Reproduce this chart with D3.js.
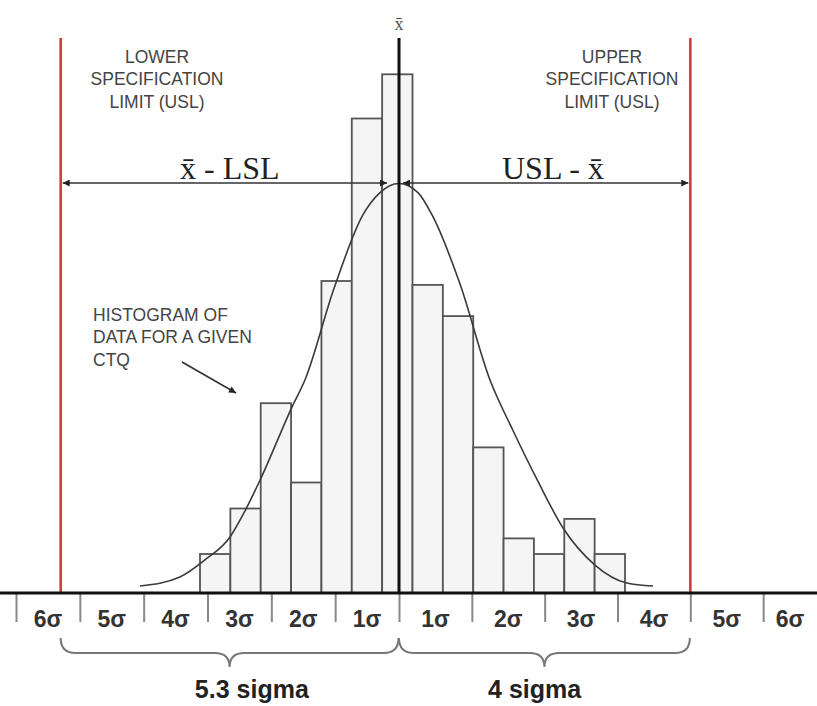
<!DOCTYPE html>
<html>
<head>
<meta charset="utf-8">
<script src="https://cdn.jsdelivr.net/npm/d3@7"></script>
<style>
  html, body { margin: 0; padding: 0; background: #fff; }
  svg { display: block; }
</style>
</head>
<body>
<svg id="chart" width="817" height="706"></svg>
<script>
// ---------------- DATA ----------------
// histogram bins (bin index units) and frequencies
const binEdges = [0, 1, 2, 3, 4, 5, 6, 7, 8, 9, 10, 11, 12, 13, 14];
const counts   = [3, 6.5, 14.6, 8.5, 24, 36.5, 39.9, 23.7, 21.3, 11.2, 4.2, 3, 5.7, 3];

// fitted curve, points (bin units, frequency units)
const curveX = [-1.98, -0.66, 0.16, 0.99, 1.48, 1.98, 3.03, 3.46, 4.41, 5.37, 5.93, 6.55, 7.18, 7.64, 8.56, 9.55, 10.31, 11.13, 11.96, 13.01, 14.06, 14.92];
const curveY = [0.54, 1.23, 2.54, 4.31, 6.3, 8.69, 14.3, 16.4, 23.4, 29.1, 30.8, 31.5, 30.8, 29.1, 23.8, 16.4, 12.5, 8.6, 5.0, 2.15, 0.77, 0.54];

// sigma axis
const sigmaTicks  = [-6, -5, -4, -3, -2, -1, 0, 1, 2, 3, 4, 5, 6];
const sigmaLabels = ["6σ", "5σ", "4σ", "3σ", "2σ", "1σ", "1σ", "2σ", "3σ", "4σ", "5σ", "6σ"];
const sigmaLabelSegments = [[-6, -5], [-5, -4], [-4, -3], [-3, -2], [-2, -1], [-1, 0], [0, 1], [1, 2], [2, 3], [3, 4], [4, 5], [5, 6]];

// spec limits and mean (sigma units)
const limitNames  = ["LSL", "USL"];
const limitValues = [-5.3, 4];
const meanSigma   = 0;

// annotation texts
const lslLabel  = ["LOWER", "SPECIFICATION", "LIMIT (USL)"];
const uslLabel  = ["UPPER", "SPECIFICATION", "LIMIT (USL)"];
const histLabel = ["HISTOGRAM OF", "DATA FOR A GIVEN", "CTQ"];
const braceLabels = ["5.3 sigma", "4 sigma"];

// ---------------- DRAW ----------------
const W = 817, H = 706;
const baseY = 593;
const svg = d3.select("#chart");

const sigmaScale = d3.scaleLinear().domain([-6, 0, 6]).range([16, 399, 836]);
const xBin = d3.scaleLinear().domain([0, 14]).range([200, 625]);
const yFreq = d3.scaleLinear().domain([0, 40]).range([baseY, 73]);

const sans = "'Liberation Sans', Arial, Helvetica, sans-serif";
const serif = "'Liberation Serif', 'Times New Roman', serif";

svg.append("rect").attr("width", W).attr("height", H).attr("fill", "#fff");

// spec limit red lines
svg.selectAll("line.limit").data(limitValues).enter().append("line")
  .attr("class", "limit")
  .attr("x1", d => sigmaScale(d)).attr("x2", d => sigmaScale(d))
  .attr("y1", 38).attr("y2", baseY)
  .attr("stroke", "#d63a3c").attr("stroke-width", 2.6);

// histogram bars
const bars = counts.map((c, i) => ({x0: binEdges[i], x1: binEdges[i + 1], c}));
svg.selectAll("rect.bar").data(bars).enter().append("rect")
  .attr("class", "bar")
  .attr("x", d => xBin(d.x0))
  .attr("y", d => yFreq(d.c))
  .attr("width", d => xBin(d.x1) - xBin(d.x0))
  .attr("height", d => yFreq(0) - yFreq(d.c))
  .attr("fill", "#f5f5f5")
  .attr("stroke", "#555")
  .attr("stroke-width", 1.8);

// fitted curve
const curvePts = curveX.map((x, i) => [x, curveY[i]]);
svg.append("path")
  .datum(curvePts)
  .attr("d", d3.line().x(d => xBin(d[0])).y(d => yFreq(d[1])).curve(d3.curveMonotoneX))
  .attr("fill", "none")
  .attr("stroke", "#3a3a3a")
  .attr("stroke-width", 1.6);

// mean line
svg.append("line")
  .attr("x1", sigmaScale(meanSigma)).attr("x2", sigmaScale(meanSigma))
  .attr("y1", 38).attr("y2", baseY)
  .attr("stroke", "#111").attr("stroke-width", 3);

svg.append("text")
  .attr("x", sigmaScale(meanSigma)).attr("y", 30)
  .attr("text-anchor", "middle")
  .attr("font-family", serif).attr("font-size", 18)
  .attr("fill", "#555")
  .text("x\u0304");

// arrow markers
const defs = svg.append("defs");
defs.append("marker").attr("id", "ah").attr("viewBox", "0 0 10 10")
  .attr("refX", 10).attr("refY", 5).attr("markerWidth", 9).attr("markerHeight", 7)
  .attr("markerUnits", "userSpaceOnUse").attr("orient", "auto-start-reverse")
  .append("path").attr("d", "M0,0 L10,5 L0,10 z").attr("fill", "#222");

const arrowY = 183;
const xMean = sigmaScale(meanSigma);
const dimArrows = [
  [sigmaScale(limitValues[0]) + 2, xMean - 12],
  [xMean + 4, sigmaScale(limitValues[1]) - 2]
];
svg.selectAll("line.dim").data(dimArrows).enter().append("line")
  .attr("class", "dim")
  .attr("x1", d => d[0]).attr("x2", d => d[1])
  .attr("y1", arrowY).attr("y2", arrowY)
  .attr("stroke", "#333").attr("stroke-width", 1.5)
  .attr("marker-start", "url(#ah)").attr("marker-end", "url(#ah)");

// dimension texts
svg.append("text")
  .attr("x", 180).attr("y", 178.5)
  .attr("font-family", serif).attr("font-size", 32).attr("fill", "#222")
  .text("x\u0304 - " + limitNames[0]);

svg.append("text")
  .attr("x", 502).attr("y", 178.5)
  .attr("font-family", serif).attr("font-size", 32).attr("fill", "#222")
  .text(limitNames[1] + " - x\u0304");

// spec limit labels
function block(lines, x, y0, anchor) {
  const t = svg.append("text")
    .attr("font-family", sans).attr("font-size", 17.5)
    .attr("fill", "#444").attr("text-anchor", anchor);
  lines.forEach((l, i) => {
    t.append("tspan").attr("x", x).attr("y", y0 + i * 22.3).text(l);
  });
}
block(lslLabel, 157, 63, "middle");
block(uslLabel, 612, 63, "middle");
block(histLabel, 93, 321, "start");

// annotation arrow
defs.append("marker").attr("id", "ah2").attr("viewBox", "0 0 10 10")
  .attr("refX", 10).attr("refY", 5).attr("markerWidth", 9).attr("markerHeight", 7)
  .attr("markerUnits", "userSpaceOnUse").attr("orient", "auto")
  .append("path").attr("d", "M0,0 L10,5 L0,10 z").attr("fill", "#222");
svg.append("line")
  .attr("x1", 182).attr("y1", 362).attr("x2", 236).attr("y2", 393)
  .attr("stroke", "#333").attr("stroke-width", 1.6)
  .attr("marker-end", "url(#ah2)");

// sigma axis ticks
const axis = d3.axisBottom(sigmaScale)
  .tickValues(sigmaTicks)
  .tickSize(29)
  .tickSizeOuter(0)
  .tickFormat("");
const axG = svg.append("g").attr("transform", `translate(0,${baseY})`).call(axis);
axG.select(".domain").remove();
axG.selectAll(".tick line").attr("stroke", "#888").attr("stroke-width", 2);

// baseline
svg.append("line")
  .attr("x1", 0).attr("x2", W).attr("y1", baseY).attr("y2", baseY)
  .attr("stroke", "#111").attr("stroke-width", 3);

// sigma labels, centred in the visible part of each segment
const visMin = sigmaScale.invert(0), visMax = sigmaScale.invert(W);
svg.selectAll("text.sig").data(sigmaLabels).enter().append("text")
  .attr("class", "sig")
  .attr("x", (d, i) => {
    const s = sigmaLabelSegments[i];
    const a = Math.max(s[0], visMin), b = Math.min(s[1], visMax);
    return (sigmaScale(a) + sigmaScale(b)) / 2;
  })
  .attr("y", 627)
  .attr("text-anchor", "middle")
  .attr("font-family", sans).attr("font-weight", "bold").attr("font-size", 23)
  .attr("fill", "#333")
  .text(d => d);

// braces
function bracePath(x1, x2, y0, y1, y2) {
  const xm = (x1 + x2) / 2, r = y1 - y0;
  return `M${x1},${y0} Q${x1},${y1} ${x1 + r},${y1} L${xm - r},${y1} Q${xm},${y1} ${xm},${y2}` +
         ` Q${xm},${y1} ${xm + r},${y1} L${x2 - r},${y1} Q${x2},${y1} ${x2},${y0}`;
}
const braces = [[limitValues[0], meanSigma], [meanSigma, limitValues[1]]];
const braceTextDx = [22, -10];
svg.selectAll("path.brace").data(braces).enter().append("path")
  .attr("class", "brace")
  .attr("d", d => bracePath(sigmaScale(d[0]), sigmaScale(d[1]) - 0.5, 638, 653, 667))
  .attr("fill", "none").attr("stroke", "#777").attr("stroke-width", 2);

svg.selectAll("text.brace").data(braceLabels).enter().append("text")
  .attr("class", "brace")
  .attr("x", (d, i) => (sigmaScale(braces[i][0]) + sigmaScale(braces[i][1])) / 2 + braceTextDx[i])
  .attr("y", 698)
  .attr("text-anchor", "middle")
  .attr("font-family", sans).attr("font-weight", "bold").attr("font-size", 25)
  .attr("fill", "#222")
  .text(d => d);
</script>
</body>
</html>
